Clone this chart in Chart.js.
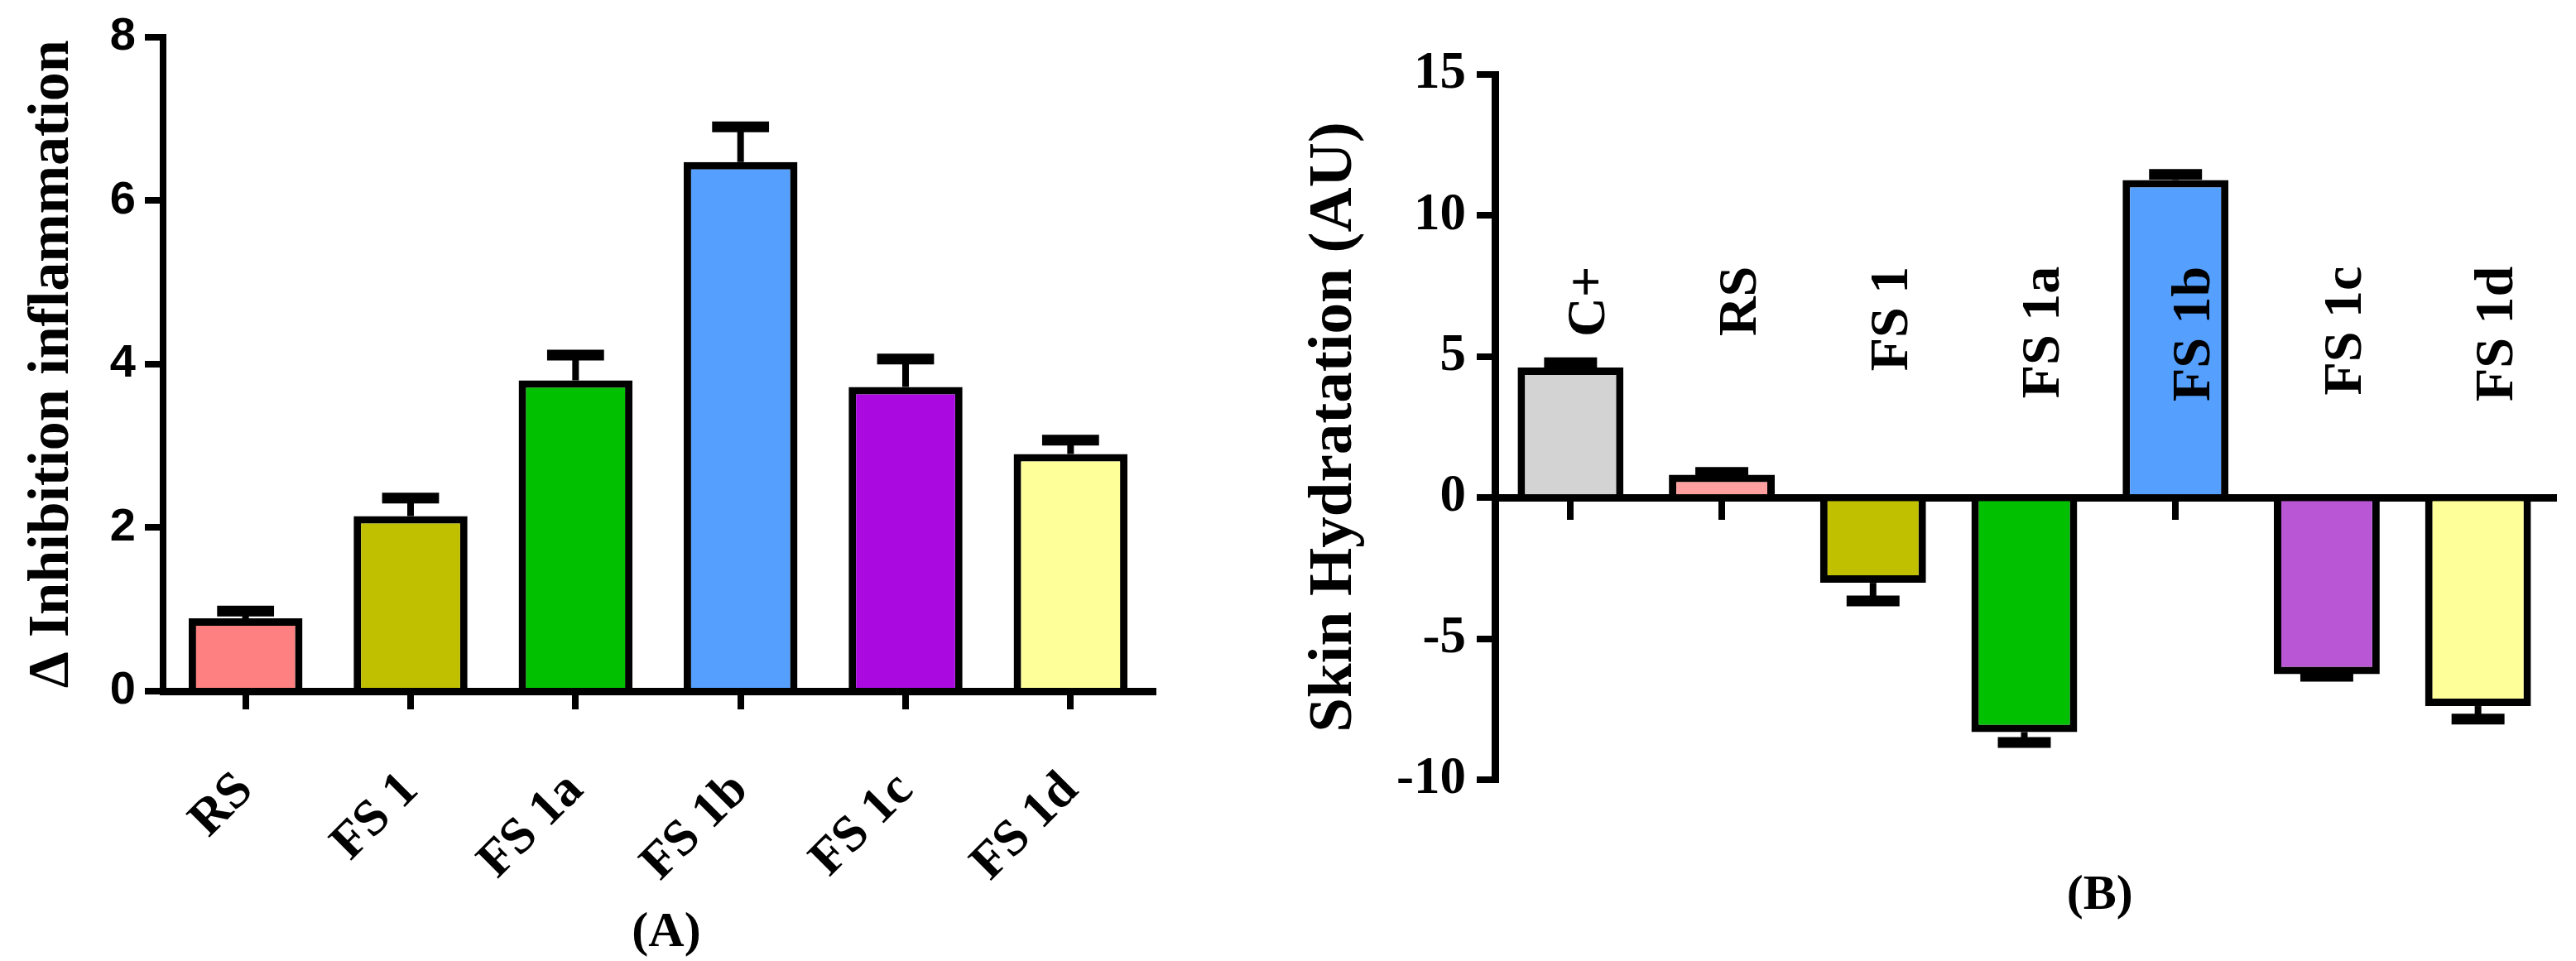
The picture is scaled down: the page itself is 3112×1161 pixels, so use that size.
<!DOCTYPE html>
<html lang="en">
<head>
    <meta charset="UTF-8">
    <title>Inhibition inflammation / Skin hydratation</title>
    <style>
        body {
            margin: 0;
            background-color: white;
        }
        .panel {
            position: absolute;
            top: 0;
        }
        #panelA { left: 0; }
        #panelB { left: 1550px; }
    </style>
</head>
<body>
    <canvas id="panelA" class="panel" width="1550" height="1161"></canvas>
    <canvas id="panelB" class="panel" width="1562" height="1161"></canvas>

    <script src="https://cdn.jsdelivr.net/npm/chart.js"></script>
    <script>
        // panel (A)
        const labelsA = ['RS', 'FS 1', 'FS 1a', 'FS 1b', 'FS 1c', 'FS 1d'];
        const valuesA = [0.89, 2.14, 3.80, 6.47, 3.72, 2.90];
        const errorsA = [0.09, 0.22, 0.31, 0.43, 0.34, 0.17];
        const colorsA = ['#ff8080', '#c0c000', '#00c000', '#55a0ff', '#aa0ae0', '#ffff99'];
        const ticksA = [0, 2, 4, 6, 8];

        // panel (B)
        const labelsB = ['C+', 'RS', 'FS 1', 'FS 1a', 'FS 1b', 'FS 1c', 'FS 1d'];
        const valuesB = [4.61, 0.81, -3.02, -8.31, 11.26, -6.26, -7.39];
        const errorsB = [0.17, 0.08, 0.64, 0.37, 0.20, 0.07, 0.46];
        const colorsB = ['#d3d3d3', '#ffa0a0', '#c0c000', '#00c000', '#55a0ff', '#b956d6', '#ffff99'];
        const ticksB = [-10, -5, 0, 5, 10, 15];

        const serif = 'Liberation Serif';
        const labelTopB = 8.2;   // y value where the vertical labels of (B) end

        // error bars drawn away from zero, one side only
        const errorBars = {
            id: 'errorBars',
            afterDatasetsDraw(chart) {
                const ctx = chart.ctx;
                const yScale = chart.scales.y;
                const ds = chart.data.datasets[0];
                const meta = chart.getDatasetMeta(0);
                ctx.save();
                ctx.strokeStyle = '#000';
                meta.data.forEach((bar, i) => {
                    const v = ds.data[i];
                    const e = ds.errors[i];
                    const end = yScale.getPixelForValue(v >= 0 ? v + e : v - e);
                    ctx.lineWidth = 8;
                    ctx.beginPath();
                    ctx.moveTo(bar.x, bar.y);
                    ctx.lineTo(bar.x, end);
                    ctx.stroke();
                    const half = bar.width * 0.25;
                    ctx.lineWidth = 13;
                    ctx.beginPath();
                    ctx.moveTo(bar.x - half, end);
                    ctx.lineTo(bar.x + half, end);
                    ctx.stroke();
                });
                ctx.restore();
            }
        };

        // "(A)" / "(B)" under each panel
        const panelTag = {
            id: 'panelTag',
            afterDraw(chart) {
                const t = chart.config.options.tag;
                const ctx = chart.ctx;
                ctx.save();
                ctx.fillStyle = '#000';
                ctx.font = 'bold 60px "' + serif + '"';
                ctx.textAlign = 'center';
                ctx.textBaseline = 'middle';
                ctx.fillText(t.text, chart.scales.x.getPixelForValue(t.at), t.y);
                ctx.restore();
            }
        };

        // vertical category names of (B), written inside the plot
        const verticalLabels = {
            id: 'verticalLabels',
            afterDraw(chart) {
                if (!chart.config.options.verticalLabels) return;
                const ctx = chart.ctx;
                const xScale = chart.scales.x;
                const top = chart.scales.y.getPixelForValue(labelTopB);
                ctx.save();
                ctx.fillStyle = '#000';
                ctx.font = 'bold 66px "' + serif + '"';
                ctx.textAlign = 'right';
                ctx.textBaseline = 'alphabetic';
                chart.data.labels.forEach((lab, i) => {
                    ctx.save();
                    ctx.translate(xScale.getPixelForValue(i) + 41, top);
                    ctx.rotate(-Math.PI / 2);
                    ctx.fillText(lab, 0, 0);
                    ctx.restore();
                });
                ctx.restore();
            }
        };

        const axisGrid = {
            drawOnChartArea: false,
            drawTicks: true,
            tickLength: 22,
            tickWidth: 8,
            tickColor: '#000',
            color: '#000',
            lineWidth: 8
        };

        Chart.defaults.color = '#000';

        new Chart(document.getElementById('panelA'), {
            type: 'bar',
            data: {
                labels: labelsA,
                datasets: [{
                    data: valuesA,
                    errors: errorsA,
                    backgroundColor: colorsA,
                    borderColor: '#000',
                    borderWidth: 9,
                    borderSkipped: 'start',
                    barPercentage: 0.69,
                    categoryPercentage: 1
                }]
            },
            options: {
                responsive: false,
                devicePixelRatio: 1,
                animation: false,
                layout: { padding: { top: 39, right: 157, bottom: 0, left: 0 } },
                plugins: { legend: { display: false }, tooltip: { enabled: false } },
                tag: { text: '(A)', at: 2.55, y: 1127 },
                scales: {
                    x: {
                        grid: Object.assign({}, axisGrid, { offset: false }),
                        border: { display: true, color: '#000', width: 9 },
                        ticks: {
                            minRotation: 45,
                            maxRotation: 45,
                            autoSkip: false,
                            padding: 62,
                            labelOffset: 0,
                            font: { family: serif, size: 62, weight: 'bold' }
                        },
                        afterFit(scale) { scale.height = 326; }
                    },
                    y: {
                        min: 0,
                        max: 8,
                        afterBuildTicks(scale) { scale.ticks = ticksA.map(v => ({ value: v })); },
                        grid: axisGrid,
                        border: { display: true, color: '#000', width: 8 },
                        ticks: {
                            padding: 11,
                            font: { family: 'Liberation Sans', size: 56, weight: 'bold' }
                        },
                        title: {
                            display: true,
                            text: 'Δ Inhibition inflammation',
                            padding: { top: 22, bottom: 0 },
                            font: { family: serif, size: 70, weight: 'bold' }
                        },
                        afterFit(scale) { scale.width = 197; }
                    }
                }
            },
            plugins: [errorBars, panelTag]
        });

        new Chart(document.getElementById('panelB'), {
            type: 'bar',
            data: {
                labels: labelsB,
                datasets: [{
                    data: valuesB,
                    errors: errorsB,
                    backgroundColor: colorsB,
                    borderColor: '#000',
                    borderWidth: 9,
                    borderSkipped: 'start',
                    barPercentage: 0.70,
                    categoryPercentage: 1
                }]
            },
            options: {
                responsive: false,
                devicePixelRatio: 1,
                animation: false,
                layout: { padding: { top: 90, right: 27, bottom: 219, left: 0 } },
                plugins: { legend: { display: false }, tooltip: { enabled: false } },
                tag: { text: '(B)', at: 3.5, y: 1082 },
                verticalLabels: true,
                scales: {
                    x: {
                        position: { y: 0 },
                        z: 1,
                        grid: Object.assign({}, axisGrid, { offset: false }),
                        border: { display: true, color: '#000', width: 9 },
                        ticks: { display: false }
                    },
                    y: {
                        min: -10,
                        max: 15,
                        afterBuildTicks(scale) { scale.ticks = ticksB.map(v => ({ value: v })); },
                        grid: axisGrid,
                        border: { display: true, color: '#000', width: 9 },
                        ticks: {
                            padding: 13,
                            font: { family: serif, size: 63, weight: 'bold' }
                        },
                        title: {
                            display: true,
                            text: 'Skin Hydratation (AU)',
                            padding: { top: 18, bottom: 0 },
                            font: { family: serif, size: 75, weight: 'bold' }
                        },
                        afterFit(scale) { scale.width = 256; }
                    }
                }
            },
            plugins: [errorBars, panelTag, verticalLabels]
        });
    </script>
</body>
</html>
